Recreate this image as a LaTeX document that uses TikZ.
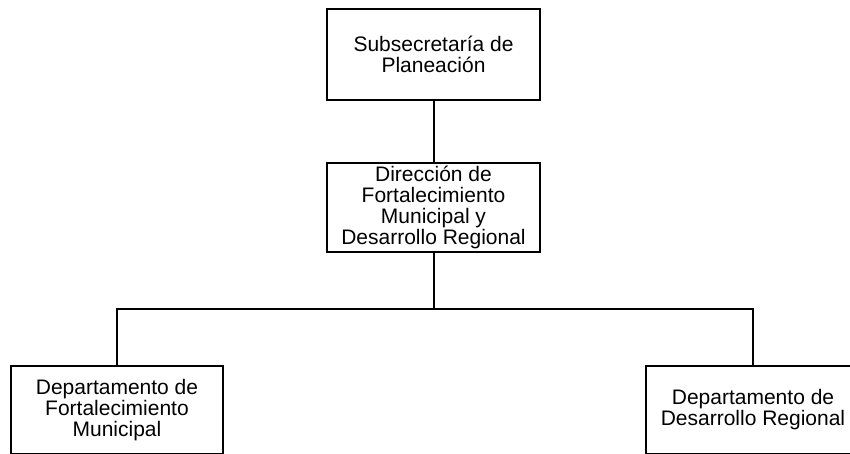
\documentclass[tikz,border=0pt]{standalone}
\usepackage{fontspec}
\setmainfont{Liberation Sans}
\begin{document}
\begin{tikzpicture}[x=1pt,y=-1pt,
  orgbox/.style={draw=black, line width=2pt, rectangle, align=center, inner sep=0pt,
    font=\fontsize{21}{21}\selectfont, text=black},
  link/.style={draw=black, line width=2pt}]
\useasboundingbox (0,0) rectangle (850,453);
\clip (0,0) rectangle (850,453);
\node[orgbox, minimum width=213pt, minimum height=91pt] (top) at (433.5,54.5)
  {Subsecretaría de\\Planeación};
\node[orgbox, minimum width=213pt, minimum height=89pt] (mid) at (433.5,207.5)
  {Dirección de\\Fortalecimiento\\Municipal y\\Desarrollo Regional};
\node[orgbox, minimum width=212pt, minimum height=88pt] (left) at (117,410)
  {Departamento de\\Fortalecimiento\\Municipal};
\node[orgbox, minimum width=214pt, minimum height=88pt] (right) at (753,410)
  {Departamento de\\Desarrollo Regional};
\coordinate (bus) at (0,309);
\draw[link] (top.south) -- (mid.north);
\draw[link] (mid.south) -- (mid.south |- bus);
\draw[link] (left.north) |- (bus -| mid.south) -| (right.north);
\end{tikzpicture}
\end{document}
